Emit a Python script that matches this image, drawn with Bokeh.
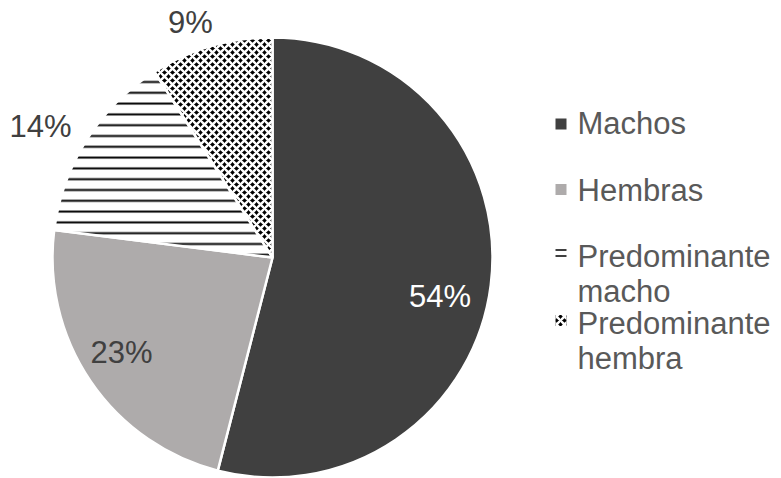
import math
from bokeh.plotting import figure
from bokeh.models import Range1d
from bokeh.core.properties import value
from bokeh.embed import file_html
from bokeh.resources import INLINE

categories = ["Machos", "Hembras", "Predominante macho", "Predominante hembra"]
legend_labels = ["Machos", "Hembras", "Predominante\nmacho", "Predominante\nhembra"]
percent = [54, 23, 14, 9]
fill_colors = ["#404040", "#AEABAB", "#FFFFFF", "#000000"]
hatches = [None, None, "horizontal_line", "diagonal_cross"]
hatch_colors = [None, None, "#000000", "#FFFFFF"]
label_colors = ["#FFFFFF", "#404040", "#404040", "#404040"]

W, H = 781, 478
FONT = "Liberation Sans"
TXT_SHIFT = 10  # svg baseline correction

p = figure(width=W, height=H, output_backend="svg", toolbar_location=None,
           x_range=Range1d(0, W), y_range=Range1d(0, H), min_border=0)
p.axis.visible = False
p.grid.visible = False
p.outline_line_color = None
p.background_fill_color = "#FFFFFF"

cx, cy, r = 272, H - 257, 220

total = sum(percent)
cum = 0.0
starts, ends = [], []
for v in percent:
    a0 = cum / total
    cum += v
    a1 = cum / total
    starts.append(math.pi / 2 - a1 * 2 * math.pi)
    ends.append(math.pi / 2 - a0 * 2 * math.pi)

for i in range(len(categories)):
    kw = dict(x=cx, y=cy, radius=r, start_angle=starts[i], end_angle=ends[i],
              fill_color=fill_colors[i], line_color="#FFFFFF", line_width=2.5)
    if hatches[i] == "horizontal_line":
        kw.update(hatch_pattern=hatches[i], hatch_color=hatch_colors[i],
                  hatch_scale=10.8, hatch_weight=2)
    elif hatches[i]:
        kw.update(hatch_pattern=hatches[i], hatch_color=hatch_colors[i],
                  hatch_scale=8, hatch_weight=2.4)
    p.wedge(**kw)

# percentage labels (positions in screen px, baseline)
label_pos = [(439.5, 306), (121, 362), (40, 136), (190, 32)]
lx = [q[0] for q in label_pos]
ly = [H - q[1] + TXT_SHIFT for q in label_pos]
p.text(x=lx, y=ly, text=[f"{v}%" for v in percent],
       text_color=label_colors, text_font=value(FONT), text_font_size="31px",
       text_align="center", text_baseline="alphabetic")

# legend
marker_y = [123.5, 189, 251, 320]
text_base = [133, 200, 266, 333]
line_gap = 35
for i, lab in enumerate(legend_labels):
    my = H - marker_y[i]
    kw = dict(x=560.5, y=my, width=11, height=11, fill_color=fill_colors[i],
              line_color=None)
    if hatches[i] == "horizontal_line":
        kw.update(hatch_pattern=hatches[i], hatch_color=hatch_colors[i],
                  hatch_scale=6, hatch_weight=1.5)
    elif hatches[i]:
        kw.update(hatch_pattern=hatches[i], hatch_color=hatch_colors[i],
                  hatch_scale=8, hatch_weight=2.4)
    p.rect(**kw)
    for j, line in enumerate(lab.split("\n")):
        p.text(x=[577], y=[H - (text_base[i] + j * line_gap) + TXT_SHIFT], text=[line],
               text_color="#595959", text_font=value(FONT), text_font_size="31px",
               text_align="left", text_baseline="alphabetic")

open("out.html", "w").write(file_html(p, INLINE))
